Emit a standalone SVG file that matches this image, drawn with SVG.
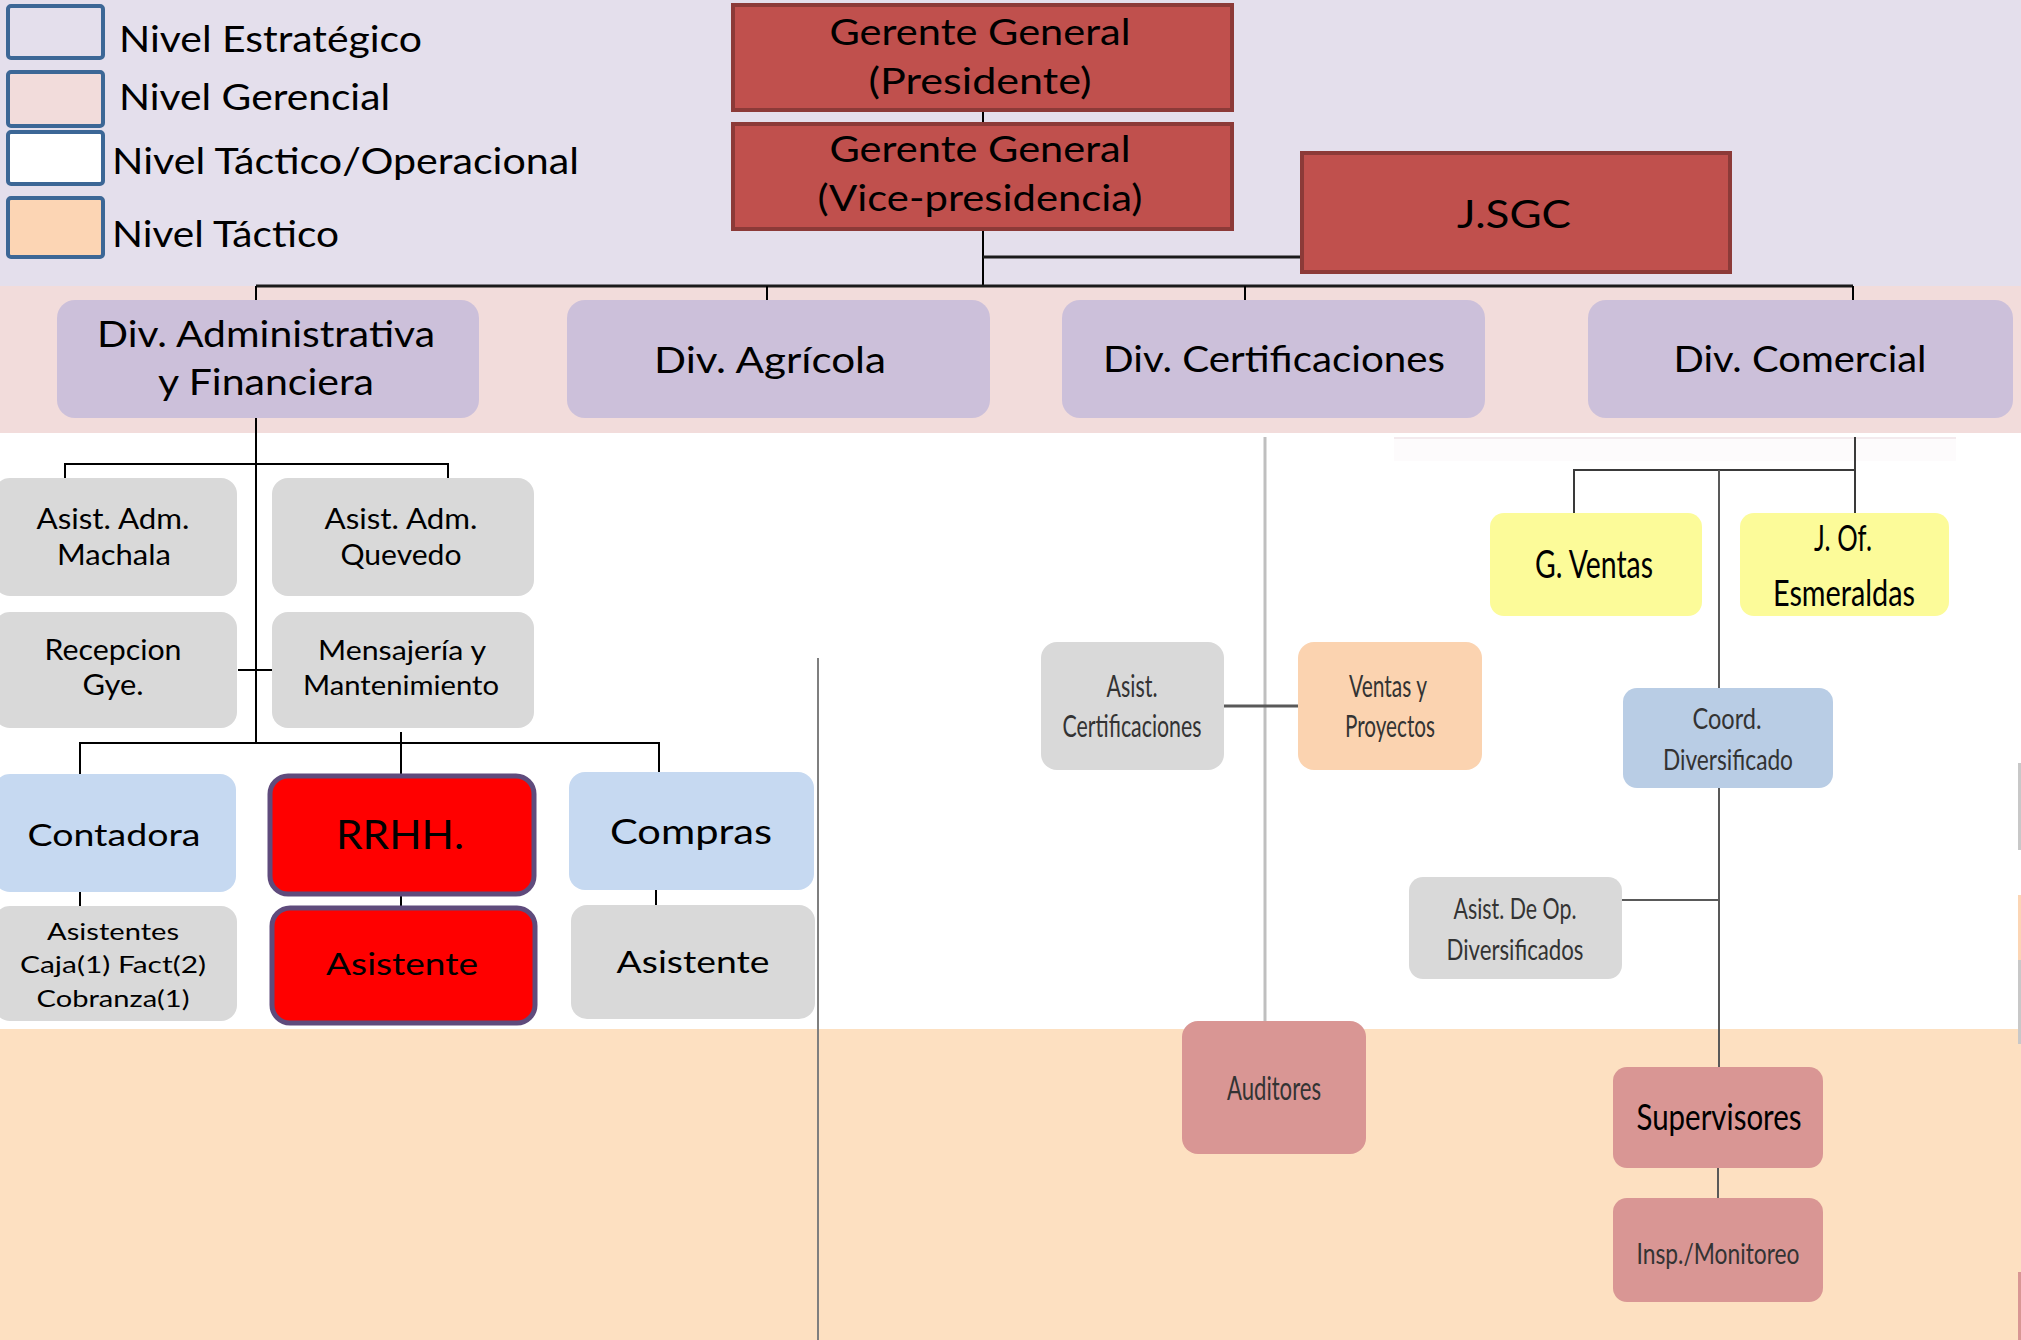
<svg xmlns="http://www.w3.org/2000/svg" width="2021" height="1340" viewBox="0 0 2021 1340">
<defs>
<style>
text{font-family:Lato,"Liberation Sans",sans-serif;fill:#000;}
.c{text-anchor:middle;}
.lg{font-size:36px;}
.legbox{stroke:#3C6796;stroke-width:4;}
.top{fill:#C0504D;stroke:#8C3A38;stroke-width:4;}
.div{fill:#CCC0DA;}
.gray{fill:#D9D9D9;}
.blue{fill:#C6D9F1;}
.red{fill:#FF0000;stroke:#5F4B7C;stroke-width:5;}
.yel{fill:#FCFB99;}
.coord{fill:#B9CDE5;}
.peach{fill:#FBD3B0;}
.rose{fill:#D99694;}
.k{fill:none;stroke:#000;stroke-width:2;}
.kb{fill:none;stroke:#1a1a1a;stroke-width:3;}
.g{fill:none;stroke:#595959;stroke-width:2;}
.dk{fill:#333;}
</style>
</defs>

<!-- background bands -->
<rect x="0" y="0" width="2021" height="286" fill="#E4DFEC"/>
<rect x="0" y="286" width="2021" height="147" fill="#F2DCDB"/>
<rect x="0" y="433" width="2021" height="596" fill="#FFFFFF"/>
<rect x="0" y="1029" width="2021" height="311" fill="#FDE0C1"/>
<rect x="1394" y="437" width="562" height="24" fill="#FDFBFC"/>
<line x1="1394" y1="438" x2="1956" y2="438" stroke="#F3EAED" stroke-width="2"/>
<rect x="2018" y="763" width="3" height="87" fill="#C8C8C8"/>
<rect x="2018" y="895" width="3" height="65" fill="#FCD5B4"/>
<rect x="2018" y="960" width="3" height="84" fill="#C8C8C8"/>
<rect x="2018" y="1272" width="3" height="68" fill="#D99694"/>

<!-- legend -->
<g id="legend">
<rect class="legbox" x="8" y="6" width="95" height="52" rx="3" fill="#E4DFEC"/>
<rect class="legbox" x="8" y="72" width="95" height="54" rx="3" fill="#F2DCDB"/>
<rect class="legbox" x="8" y="132" width="95" height="52" rx="3" fill="#FFFFFF"/>
<rect class="legbox" x="8" y="198" width="95" height="59" rx="3" fill="#FCD5B4"/>
<text class="lg" x="119" y="52" textLength="303" lengthAdjust="spacingAndGlyphs">Nivel Estratégico</text>
<text class="lg" x="119" y="110" textLength="271" lengthAdjust="spacingAndGlyphs">Nivel Gerencial</text>
<text class="lg" x="112" y="174" textLength="467" lengthAdjust="spacingAndGlyphs">Nivel Táctico/Operacional</text>
<text class="lg" x="112" y="247" textLength="227" lengthAdjust="spacingAndGlyphs">Nivel Táctico</text>
</g>

<!-- connectors -->
<g id="connectors">
<path class="k" d="M983,111 V123"/>
<path class="k" d="M983,230 V286"/>
<path class="kb" d="M983,257 H1301"/>
<path class="kb" d="M256,286 H1853"/>
<path class="k" d="M256,286 V300 M767,286 V300 M1245,286 V300 M1853,286 V300"/>
<path class="k" d="M256,418 V743"/>
<path class="k" d="M65,478 V464 H448 V478"/>
<path class="k" d="M238,670 H273"/>
<path class="k" d="M80,774 V743 H659 V774"/>
<path class="k" d="M401,732 V774"/>
<path class="k" d="M80,892 V906 M401,895 V906 M656,890 V905"/>
<path fill="none" stroke="#7F7F7F" stroke-width="2" d="M818,658 V1340"/>
<path fill="none" stroke="#BFBFBF" stroke-width="3" d="M1265,437 V1021"/>
<path fill="none" stroke="#595959" stroke-width="3" d="M1224,706 H1298"/>
<path fill="none" stroke="#3a3a3a" stroke-width="2" d="M1855,437 V514 M1574,514 V470 H1855"/>
<path class="g" d="M1719,470 V1067"/>
<path class="g" d="M1622,900 H1719"/>
<path class="g" d="M1718,1168 V1198"/>
</g>

<!-- top nodes -->
<g id="n-presidente">
<rect class="top" x="733" y="5" width="499" height="105"/>
<text class="c" x="980" y="45" font-size="37" textLength="301" lengthAdjust="spacingAndGlyphs">Gerente General</text>
<text class="c" x="980" y="94" font-size="37" textLength="223" lengthAdjust="spacingAndGlyphs">(Presidente)</text>
</g>
<g id="n-vicepresidencia">
<rect class="top" x="733" y="124" width="499" height="105"/>
<text class="c" x="980" y="162" font-size="37" textLength="301" lengthAdjust="spacingAndGlyphs">Gerente General</text>
<text class="c" x="980" y="211" font-size="37" textLength="325" lengthAdjust="spacingAndGlyphs">(Vice-presidencia)</text>
</g>
<g id="n-jsgc">
<rect class="top" x="1302" y="153" width="428" height="119"/>
<text class="c" x="1514" y="228" font-size="39" textLength="114" lengthAdjust="spacingAndGlyphs">J.SGC</text>
</g>

<!-- divisions -->
<g id="n-div-adm">
<rect class="div" x="57" y="300" width="422" height="118" rx="18"/>
<text class="c" x="266" y="347" font-size="36" textLength="338" lengthAdjust="spacingAndGlyphs">Div. Administrativa</text>
<text class="c" x="266" y="395" font-size="36" textLength="216" lengthAdjust="spacingAndGlyphs">y Financiera</text>
</g>
<g id="n-div-agr">
<rect class="div" x="567" y="300" width="423" height="118" rx="18"/>
<text class="c" x="770" y="373" font-size="36" textLength="232" lengthAdjust="spacingAndGlyphs">Div. Agrícola</text>
</g>
<g id="n-div-cert">
<rect class="div" x="1062" y="300" width="423" height="118" rx="18"/>
<text class="c" x="1274" y="372" font-size="36" textLength="342" lengthAdjust="spacingAndGlyphs">Div. Certificaciones</text>
</g>
<g id="n-div-com">
<rect class="div" x="1588" y="300" width="425" height="118" rx="18"/>
<text class="c" x="1800" y="372" font-size="36" textLength="253" lengthAdjust="spacingAndGlyphs">Div. Comercial</text>
</g>

<!-- administrative tree -->
<g id="n-machala">
<rect class="gray" x="-6" y="478" width="243" height="118" rx="16"/>
<text class="c" x="113" y="529" font-size="28" textLength="153" lengthAdjust="spacingAndGlyphs">Asist. Adm.</text>
<text class="c" x="114" y="565" font-size="28" textLength="114" lengthAdjust="spacingAndGlyphs">Machala</text>
</g>
<g id="n-quevedo">
<rect class="gray" x="272" y="478" width="262" height="118" rx="16"/>
<text class="c" x="401" y="529" font-size="28" textLength="153" lengthAdjust="spacingAndGlyphs">Asist. Adm.</text>
<text class="c" x="401" y="565" font-size="28" textLength="121" lengthAdjust="spacingAndGlyphs">Quevedo</text>
</g>
<g id="n-recepcion">
<rect class="gray" x="-6" y="612" width="243" height="116" rx="16"/>
<text class="c" x="113" y="660" font-size="28" textLength="137" lengthAdjust="spacingAndGlyphs">Recepcion</text>
<text class="c" x="113" y="695" font-size="28" textLength="61" lengthAdjust="spacingAndGlyphs">Gye.</text>
</g>
<g id="n-mensajeria">
<rect class="gray" x="272" y="612" width="262" height="116" rx="16"/>
<text class="c" x="402" y="660" font-size="27" textLength="168" lengthAdjust="spacingAndGlyphs">Mensajería y</text>
<text class="c" x="401" y="695" font-size="27" textLength="196" lengthAdjust="spacingAndGlyphs">Mantenimiento</text>
</g>
<g id="n-contadora">
<rect class="blue" x="-6" y="774" width="242" height="118" rx="16"/>
<text class="c" x="114" y="846" font-size="31" textLength="173" lengthAdjust="spacingAndGlyphs">Contadora</text>
</g>
<g id="n-rrhh">
<rect class="red" x="270" y="776" width="264" height="118" rx="18"/>
<text class="c" x="400" y="849" font-size="40" textLength="128" lengthAdjust="spacingAndGlyphs">RRHH.</text>
</g>
<g id="n-compras">
<rect class="blue" x="569" y="772" width="245" height="118" rx="16"/>
<text class="c" x="691" y="844" font-size="35" textLength="162" lengthAdjust="spacingAndGlyphs">Compras</text>
</g>
<g id="n-asistentes">
<rect class="gray" x="-6" y="906" width="243" height="115" rx="16"/>
<text class="c" x="113" y="940" font-size="24" textLength="132" lengthAdjust="spacingAndGlyphs">Asistentes</text>
<text class="c" x="113" y="973" font-size="24" textLength="186" lengthAdjust="spacingAndGlyphs">Caja(1) Fact(2)</text>
<text class="c" x="113" y="1007" font-size="24" textLength="153" lengthAdjust="spacingAndGlyphs">Cobranza(1)</text>
</g>
<g id="n-asistente-rrhh">
<rect class="red" x="272" y="908" width="263" height="115" rx="18"/>
<text class="c" x="402" y="975" font-size="30" textLength="152" lengthAdjust="spacingAndGlyphs">Asistente</text>
</g>
<g id="n-asistente-compras">
<rect class="gray" x="571" y="905" width="244" height="114" rx="16"/>
<text class="c" x="693" y="973" font-size="30" textLength="153" lengthAdjust="spacingAndGlyphs">Asistente</text>
</g>

<!-- certifications tree -->
<g id="n-asist-cert">
<rect class="gray" x="1041" y="642" width="183" height="128" rx="16"/>
<text class="c dk" x="1132" y="697" font-size="31" textLength="51" lengthAdjust="spacingAndGlyphs">Asist.</text>
<text class="c dk" x="1132" y="737" font-size="31" textLength="139" lengthAdjust="spacingAndGlyphs">Certificaciones</text>
</g>
<g id="n-ventas-proyectos">
<rect class="peach" x="1298" y="642" width="184" height="128" rx="16"/>
<text class="c dk" x="1388" y="697" font-size="31" textLength="78" lengthAdjust="spacingAndGlyphs">Ventas y</text>
<text class="c dk" x="1390" y="737" font-size="31" textLength="90" lengthAdjust="spacingAndGlyphs">Proyectos</text>
</g>
<g id="n-auditores">
<rect class="rose" x="1182" y="1021" width="184" height="133" rx="16"/>
<text class="c dk" x="1274" y="1100" font-size="32" textLength="94" lengthAdjust="spacingAndGlyphs">Auditores</text>
</g>

<!-- commercial tree -->
<g id="n-gventas">
<rect class="yel" x="1490" y="513" width="212" height="103" rx="14"/>
<text class="c" x="1594" y="578" font-size="38" textLength="118" lengthAdjust="spacingAndGlyphs">G. Ventas</text>
</g>
<g id="n-jof">
<rect class="yel" x="1740" y="513" width="209" height="103" rx="14"/>
<text class="c" x="1843" y="551" font-size="36" textLength="58" lengthAdjust="spacingAndGlyphs">J. Of.</text>
<text class="c" x="1844" y="606" font-size="36" textLength="142" lengthAdjust="spacingAndGlyphs">Esmeraldas</text>
</g>
<g id="n-coord">
<rect class="coord" x="1623" y="688" width="210" height="100" rx="14"/>
<text class="c dk" x="1727" y="729" font-size="29" textLength="69" lengthAdjust="spacingAndGlyphs">Coord.</text>
<text class="c dk" x="1728" y="770" font-size="29" textLength="130" lengthAdjust="spacingAndGlyphs">Diversificado</text>
</g>
<g id="n-asist-op">
<rect class="gray" x="1409" y="877" width="213" height="102" rx="14"/>
<text class="c dk" x="1515" y="919" font-size="29" textLength="123" lengthAdjust="spacingAndGlyphs">Asist. De Op.</text>
<text class="c dk" x="1515" y="960" font-size="29" textLength="137" lengthAdjust="spacingAndGlyphs">Diversificados</text>
</g>
<g id="n-supervisores">
<rect class="rose" x="1613" y="1067" width="210" height="101" rx="14"/>
<text class="c" x="1719" y="1130" font-size="37" textLength="165" lengthAdjust="spacingAndGlyphs">Supervisores</text>
</g>
<g id="n-insp">
<rect class="rose" x="1613" y="1198" width="210" height="104" rx="14"/>
<text class="c dk" x="1718" y="1264" font-size="29" textLength="163" lengthAdjust="spacingAndGlyphs">Insp./Monitoreo</text>
</g>
</svg>
